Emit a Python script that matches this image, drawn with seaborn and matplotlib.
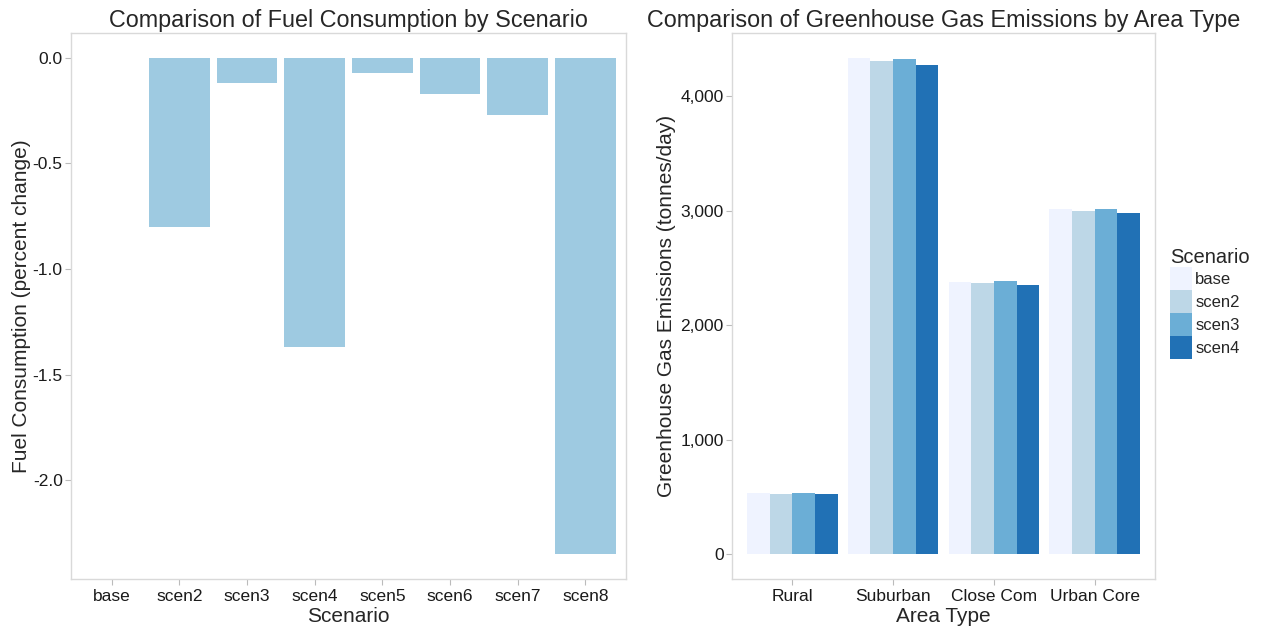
import matplotlib
matplotlib.use("Agg")
import matplotlib.pyplot as plt
from matplotlib.patches import Patch
from matplotlib.ticker import FuncFormatter
import pandas as pd
import seaborn as sns

# fuel consumption, percent change vs base
fuel_scenarios = ["base", "scen2", "scen3", "scen4", "scen5", "scen6", "scen7", "scen8"]
fuel_change = [0.0, -0.80, -0.12, -1.37, -0.07, -0.17, -0.27, -2.35]

# greenhouse gas emissions (tonnes/day) by area type
area_types = ["Rural", "Suburban", "Close Com", "Urban Core"]
ghg_scenarios = ["base", "scen2", "scen3", "scen4"]
ghg_base = [530, 4334, 2380, 3017]
ghg_scen2 = [528, 4302, 2365, 2994]
ghg_scen3 = [530, 4322, 2385, 3014]
ghg_scen4 = [525, 4270, 2350, 2977]

blues = ["#EFF3FF", "#BDD7E7", "#6BAED6", "#2171B5"]

sns.set_style("white")
plt.rcParams["font.family"] = ["Liberation Sans", "DejaVu Sans"]

W, H = 1265, 627
fig = plt.figure(figsize=(W / 100, H / 100), dpi=100)

def px_axes(x0, x1, y0, y1):
    return fig.add_axes([x0 / W, 1 - y1 / H, (x1 - x0) / W, (y1 - y0) / H])

ax1 = px_axes(71, 626, 33, 579)
ax2 = px_axes(732, 1155, 33, 579)

# left panel
df_fuel = pd.DataFrame({"Scenario": fuel_scenarios, "change": fuel_change})
sns.barplot(data=df_fuel, x="Scenario", y="change", color="#9ECAE1",
            saturation=1, width=0.9, linewidth=0, ax=ax1)
lo = min(fuel_change)
pad = (max(fuel_change) - lo) * 0.05
ax1.set_ylim(lo - pad, max(fuel_change) + pad)
ax1.set_xlim(-0.6, len(fuel_scenarios) - 0.4)
ax1.set_yticks([0.0, -0.5, -1.0, -1.5, -2.0])
ax1.yaxis.set_major_formatter(FuncFormatter(lambda v, p: f"{v:.1f}"))
ax1.set_xlabel("Scenario", fontsize=15, labelpad=2)
ax1.set_ylabel("Fuel Consumption (percent change)", fontsize=15, labelpad=1)
ax1.set_title("Comparison of Fuel Consumption by Scenario", fontsize=16.8, pad=4)

# right panel
df_ghg = pd.DataFrame({
    "Area Type": area_types * 4,
    "Scenario": [s for s in ghg_scenarios for _ in area_types],
    "ghg": ghg_base + ghg_scen2 + ghg_scen3 + ghg_scen4,
})
sns.barplot(data=df_ghg, x="Area Type", y="ghg", hue="Scenario", order=area_types,
            hue_order=ghg_scenarios, palette=blues, saturation=1, width=0.9,
            gap=0, linewidth=0, legend=False, ax=ax2)
top = df_ghg["ghg"].max()
ax2.set_ylim(-top * 0.05, top * 1.05)
ax2.set_xlim(-0.6, len(area_types) - 0.4)
ax2.set_yticks([0, 1000, 2000, 3000, 4000])
ax2.yaxis.set_major_formatter(FuncFormatter(lambda v, p: f"{int(v):,}"))
ax2.set_xlabel("Area Type", fontsize=15, labelpad=2)
ax2.set_ylabel("Greenhouse Gas Emissions (tonnes/day)", fontsize=15, labelpad=3)
ax2.set_title("Comparison of Greenhouse Gas Emissions by Area Type", fontsize=16.8, pad=4)

for ax in (ax1, ax2):
    for sp in ax.spines.values():
        sp.set_visible(True)
        sp.set_color("#D9D9D9")
        sp.set_linewidth(1.0)
    ax.tick_params(axis="both", which="major", length=4, width=0.8, color="#BBBBBB",
                   labelsize=12.5, labelcolor="#1A1A1A", pad=2, bottom=True, left=True)
    ax.tick_params(axis="x", pad=3.5)
    ax.grid(False)

handles = [Patch(facecolor=c, edgecolor="none", label=s) for c, s in zip(blues, ghg_scenarios)]
leg = fig.legend(handles=handles, title="Scenario", loc="upper left",
                 bbox_to_anchor=(1170 / W, 1 - 248 / H), frameon=False,
                 fontsize=12, title_fontsize=14.5, handlelength=1.32, handleheight=1.74,
                 labelspacing=0.0, handletextpad=0.2, borderpad=0, borderaxespad=0,
                 alignment="left")

fig.savefig("out.png", dpi=100)
